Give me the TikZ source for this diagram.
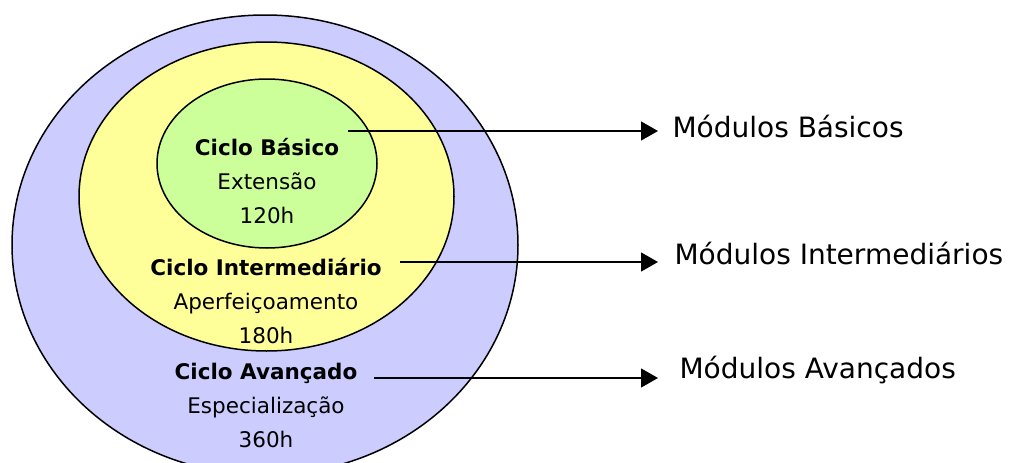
\documentclass[tikz,border=0pt]{standalone}
\usepackage{fontspec}
\setmainfont{DejaVu Sans}
\usepackage{xcolor}
\usetikzlibrary{arrows.meta}

\definecolor{avancado}{RGB}{204,204,255}
\definecolor{intermed}{RGB}{255,255,153}
\definecolor{basico}{RGB}{204,255,153}

\begin{document}
\begin{tikzpicture}[
  x=1pt,y=-1pt,
  ring/.style={draw=black,line width=1.5pt},
  cycle/.style={
    align=center,
    font=\fontsize{21.5}{34}\selectfont
  },
  module/.style={
    anchor=west,
    font=\fontsize{28}{30}\selectfont
  },
  link/.style={
    line width=1.3pt,
    -{Triangle[length=17pt,width=19pt]}
  }
]
  \useasboundingbox (0,0) rectangle (1013,463);
  \begin{scope}
    \clip (0,0) rectangle (1013,463);
    \draw[ring,fill=avancado] (265,245) ellipse [x radius=253pt,y radius=230pt];
  \end{scope}
  \draw[ring,fill=intermed] (266.5,196.5) ellipse [x radius=187.5pt,y radius=154.5pt];
  \draw[ring,fill=basico] (267,163.5) ellipse [x radius=110pt,y radius=84.5pt];

  \node[cycle] (cbas) at (267,181) {\textbf{Ciclo Básico}\\Extensão\\120h};
  \node[cycle] (cint) at (266,301) {\textbf{Ciclo Intermediário}\\Aperfeiçoamento\\180h};
  \node[cycle] (cava) at (266,405) {\textbf{Ciclo Avançado}\\Especialização\\360h};

  \node[module] (mbas) at (669,126) {Módulos Básicos};
  \node[module] (mint) at (671,253) {Módulos Intermediários};
  \node[module] (mava) at (676,370) {Módulos Avançados};

  \coordinate (sbas) at (348,131);
  \coordinate (sint) at (400,262);
  \coordinate (sava) at (374,378);
  \coordinate (ebas) at (658,131);
  \coordinate (eint) at (658,262);
  \coordinate (eava) at (658,378);

  \draw[link] (sbas) -- (ebas);
  \draw[link] (sint) -- (eint);
  \draw[link] (sava) -- (eava);
\end{tikzpicture}
\end{document}
